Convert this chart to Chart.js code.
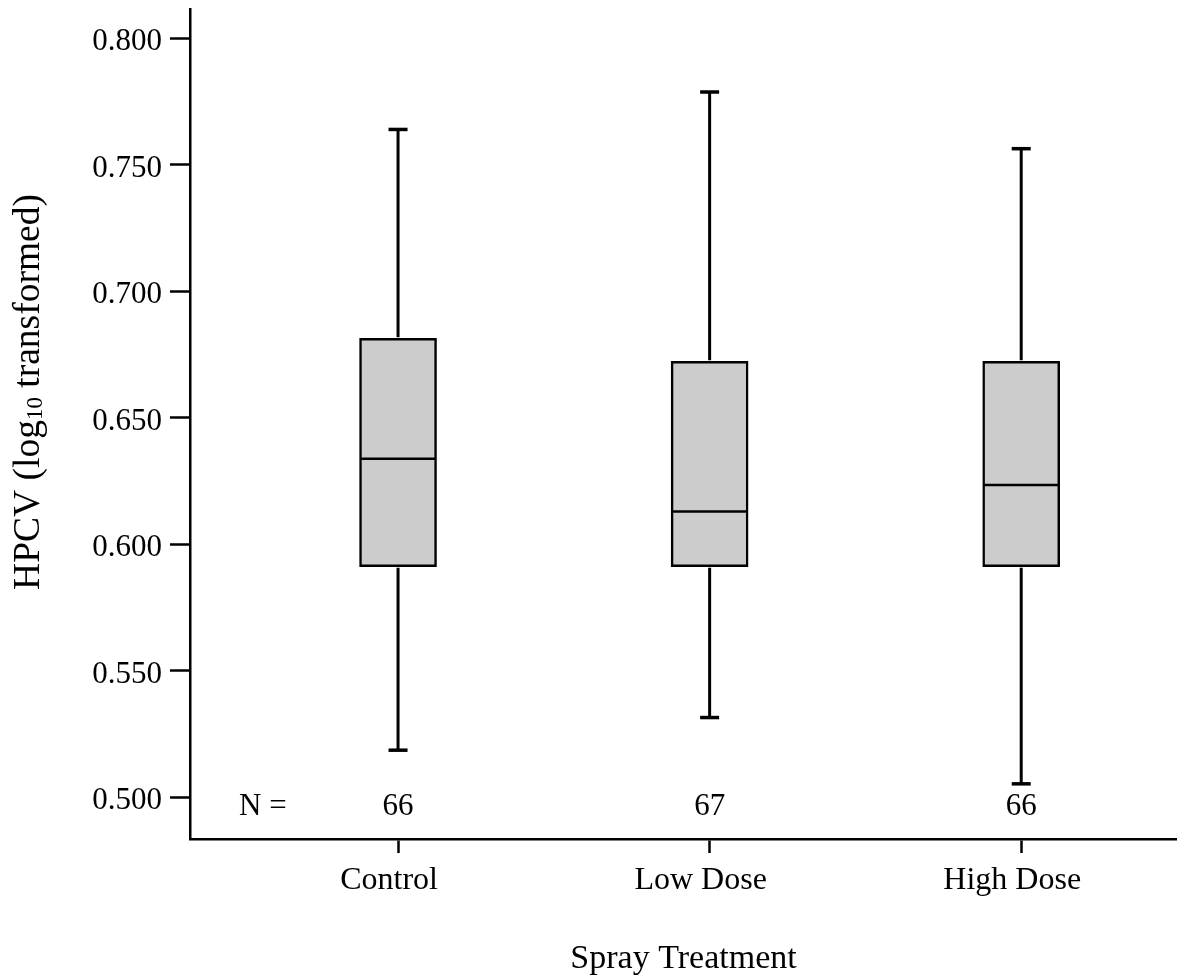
<!DOCTYPE html>
<html><head><meta charset="utf-8">
<script src="https://cdn.jsdelivr.net/npm/chart.js@4.4.1/dist/chart.umd.min.js"></script>
<style>html,body{margin:0;padding:0;background:#fff;} #wrap{width:1177px;height:979px;position:relative;}</style>
</head><body><div id="wrap"><canvas id="c" width="1177" height="979"></canvas></div>
<script>
// ---- data ----
const categories = ['Control', 'Low Dose', 'High Dose'];
const whiskerLow  = [0.5186, 0.5315, 0.5053];
const q1          = [0.5911, 0.5911, 0.5911];
const median      = [0.6338, 0.6129, 0.6234];
const q3          = [0.6814, 0.6723, 0.6723];
const whiskerHigh = [0.7639, 0.7787, 0.7563];
const counts      = [66, 67, 66];
const yTicks      = [0.500, 0.550, 0.600, 0.650, 0.700, 0.750, 0.800];
const yTitleMain  = 'HPCV (log';
const yTitleSub   = '10';
const yTitleEnd   = ' transformed)';
const xTitle      = 'Spray Treatment';
const nLabel      = 'N =';

const FONT = '"Liberation Serif", "Times New Roman", serif';

const extras = {
  id: 'boxExtras',
  afterDatasetsDraw(chart) {
    const {ctx, scales: {x, y}, chartArea} = chart;
    ctx.save();
    ctx.strokeStyle = '#000';
    ctx.lineCap = 'butt';
    const line = (x1, y1, x2, y2) => { ctx.beginPath(); ctx.moveTo(x1, y1); ctx.lineTo(x2, y2); ctx.stroke(); };
    categories.forEach((c, i) => {
      const cx = x.getPixelForValue(i + 1);
      const yTop = y.getPixelForValue(whiskerHigh[i]);
      const yLow = y.getPixelForValue(whiskerLow[i]);
      const yQ3 = y.getPixelForValue(q3[i]);
      const yQ1 = y.getPixelForValue(q1[i]);
      const yMed = y.getPixelForValue(median[i]);
      ctx.lineWidth = 3;
      line(cx, yQ3 - 1, cx, yTop);
      line(cx, yQ1 + 1, cx, yLow);
      ctx.lineWidth = 3.5;
      line(cx - 9.5, yTop, cx + 9.5, yTop);
      line(cx - 9.5, yLow, cx + 9.5, yLow);
      ctx.lineWidth = 2.5;
      line(cx - 37, yMed, cx + 37, yMed);
    });
    // N row
    ctx.fillStyle = '#000';
    ctx.font = '31px ' + FONT;
    ctx.textBaseline = 'middle';
    ctx.textAlign = 'center';
    const ny = chartArea.bottom - 32;
    counts.forEach((n, i) => ctx.fillText(String(n), x.getPixelForValue(i + 1), ny));
    ctx.textAlign = 'left';
    ctx.fillText(nLabel, chartArea.left + 49, ny);
    ctx.restore();

    // y-axis title with subscript
    ctx.save();
    ctx.translate(39, 392);
    ctx.rotate(-Math.PI / 2);
    ctx.fillStyle = '#000';
    ctx.textBaseline = 'alphabetic';
    ctx.textAlign = 'left';
    const big = 37.5, small = 23;
    ctx.font = big + 'px ' + FONT;
    const w1 = ctx.measureText(yTitleMain).width;
    const w3 = ctx.measureText(yTitleEnd).width;
    ctx.font = small + 'px ' + FONT;
    const w2 = ctx.measureText(yTitleSub).width;
    let sx = -(w1 + w2 + w3) / 2;
    ctx.font = big + 'px ' + FONT;
    ctx.fillText(yTitleMain, sx, 0); sx += w1;
    ctx.font = small + 'px ' + FONT;
    ctx.fillText(yTitleSub, sx, 3); sx += w2;
    ctx.font = big + 'px ' + FONT;
    ctx.fillText(yTitleEnd, sx, 0);
    ctx.restore();
  }
};

new Chart(document.getElementById('c'), {
  type: 'bar',
  data: {
    datasets: [{
      data: categories.map((c, i) => ({x: i + 1, y: [q1[i], q3[i]]})),
      backgroundColor: '#cccccc',
      borderColor: '#000000',
      borderWidth: 2.5,
      borderSkipped: false,
      barThickness: 77
    }]
  },
  options: {
    responsive: false,
    animation: false,
    devicePixelRatio: 1,
    layout: {padding: {top: 9, right: 0, left: 0, bottom: 0}},
    plugins: {legend: {display: false}, tooltip: {enabled: false}},
    scales: {
      x: {
        type: 'linear',
        offset: false,
        min: 0.3323,
        max: 3.5,
        afterBuildTicks: s => { s.ticks = categories.map((c, i) => ({value: i + 1})); },
        afterFit: s => { s.height = 140; s.paddingLeft = 0; s.paddingRight = 0; },
        ticks: {
          callback: v => categories[Math.round(v) - 1] || '',
          font: {family: FONT, size: 32},
          color: '#000',
          padding: 8,
          labelOffset: -9,
          maxRotation: 0,
          autoSkip: false
        },
        grid: {display: true, offset: false, drawOnChartArea: false, tickLength: 14, tickColor: '#000', tickWidth: 2.5},
        border: {display: true, color: '#000', width: 2.5},
        title: {display: true, text: xTitle, font: {family: FONT, size: 34}, color: '#000', padding: {top: 0, bottom: 0}}
      },
      y: {
        type: 'linear',
        min: 0.4835,
        max: 0.8115,
        afterBuildTicks: s => { s.ticks = yTicks.map(v => ({value: v})); },
        afterFit: s => { s.width = 190; s.paddingTop = 0; s.paddingBottom = 0; },
        ticks: {
          callback: v => v.toFixed(3),
          font: {family: FONT, size: 31},
          color: '#000',
          padding: 8,
          labelOffset: 4
        },
        grid: {display: true, drawOnChartArea: false, tickLength: 20, tickColor: '#000', tickWidth: 2.5},
        border: {display: true, color: '#000', width: 2.5}
      }
    }
  },
  plugins: [extras]
});
</script>
</body></html>
